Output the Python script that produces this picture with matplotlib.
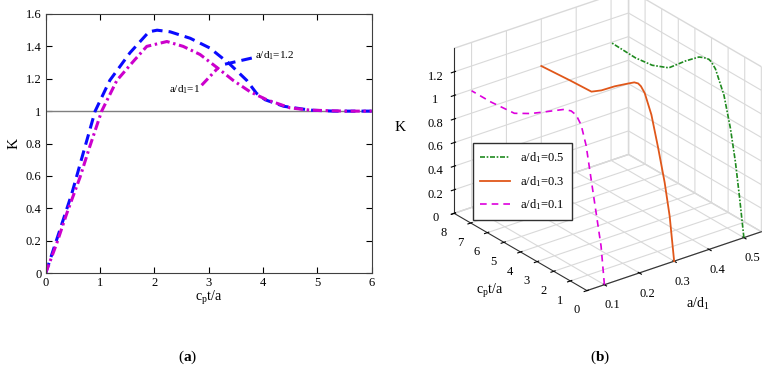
import numpy as np
import matplotlib
matplotlib.use('Agg')
import matplotlib.pyplot as plt

plt.rcParams['font.family'] = ['Liberation Serif', 'DejaVu Serif']
plt.rcParams['mathtext.fontset'] = 'custom'
plt.rcParams['mathtext.rm'] = 'Liberation Serif'
plt.rcParams['mathtext.it'] = 'Liberation Serif:italic'
plt.rcParams['mathtext.bf'] = 'Liberation Serif:bold'

# ---- panel (a): K vs cp t / a ----
t_12 = [0, 0.26, 0.48, 0.69, 0.91, 1.18, 1.55, 1.9, 2.05, 2.29, 2.66, 3.02, 3.39,
        3.70, 3.88, 4.04, 4.38, 4.87, 5.3, 6.0]
k_12 = [0, 0.265, 0.49, 0.74, 1.0, 1.19, 1.36, 1.49, 1.50, 1.49, 1.45, 1.39, 1.29,
        1.19, 1.11, 1.07, 1.03, 1.006, 1.0, 1.0]
t_10 = [0, 0.2, 0.39, 0.63, 0.81, 1.03, 1.31, 1.62, 1.86, 2.23, 2.53, 2.84, 3.15,
        3.45, 3.76, 4.07, 4.5, 4.87, 5.5, 6.0]
k_10 = [0, 0.18, 0.37, 0.59, 0.78, 1.0, 1.19, 1.31, 1.40, 1.43, 1.40, 1.35, 1.27,
        1.19, 1.12, 1.07, 1.02, 1.006, 1.0, 1.0]

# ---- panel (b): K vs cp t / a for three a/d1 ----
a_vals = [0.1, 0.3, 0.5]
t_01 = [0, 0.2, 0.5, 0.8, 1.1, 1.4, 1.7, 2.0, 2.41, 3.01, 3.61, 4.42, 5.42, 6.83, 8.0]
k_01 = [0, 0.31, 0.57, 0.83, 1.09, 1.24, 1.30, 1.31, 1.29, 1.23, 1.17, 1.09, 1.01, 0.99, 0.99]
t_03 = [0, 0.27, 0.57, 0.96, 1.37, 1.77, 2.0, 2.17, 2.4, 2.77, 3.58, 4.38, 4.98, 6.22, 8.0]
k_03 = [0, 0.36, 0.62, 0.88, 1.13, 1.28, 1.32, 1.33, 1.32, 1.28, 1.19, 1.09, 1.03, 1.02, 1.0]
t_05 = [0, 0.27, 0.51, 0.81, 1.2, 1.71, 1.95, 2.11, 2.4, 2.71, 3.52, 4.52, 5.52, 6.53, 8.0]
k_05 = [0, 0.33, 0.60, 0.86, 1.11, 1.29, 1.33, 1.34, 1.33, 1.31, 1.21, 1.07, 1.01, 0.99, 1.0]

W, H = 780, 375
fig = plt.figure(figsize=(7.8, 3.75), dpi=100)
fig.set_facecolor('white')

ax = fig.add_axes([45.7 / W, 1 - 273 / H, 326 / W, 259 / H])
ax.axhline(1, color='#7f7f7f', lw=1)
ax.plot(t_12, k_12, color='#0a0aff', lw=2.2, linestyle=(0, (3.5, 2)))
ax.plot(t_10, k_10, color='#cc00cc', lw=2.2, linestyle=(0, (3, 1.2, 0.8, 1.2)))
ax.plot([3.30, 3.82], [1.29, 1.33], color='#0a0aff', lw=2.2, linestyle=(0, (3.5, 2)))
ax.plot([2.87, 3.18], [1.16, 1.27], color='#cc00cc', lw=2.2, linestyle=(0, (3, 1.2, 0.8, 1.2)))
ax.text(3.85, 1.34, 'a/d$_1$=1.2', fontsize=8, va='center')
ax.text(2.27, 1.13, 'a/d$_1$=1', fontsize=8, va='center')
ax.set_xlim(0, 6)
ax.set_ylim(0, 1.6)
ax.set_xticks(range(0, 7))
ax.set_yticks([0, 0.2, 0.4, 0.6, 0.8, 1, 1.2, 1.4, 1.6])
ax.set_yticklabels(['0', '0.2', '0.4', '0.6', '0.8', '1', '1.2', '1.4', '1.6'])
ax.tick_params(direction='in', top=True, right=True, labelsize=9, length=4, pad=3)
ax.set_xlabel('c$_\\mathrm{p}$t/a', fontsize=10, labelpad=0)
ax.set_ylabel('K', fontsize=11, labelpad=4)
for s in ax.spines.values():
    s.set_color('#404040')

# ---- 3D panel ----
ax3 = fig.add_axes([428 / W, 0.139, 350 / W, 0.95], projection='3d', proj_type='ortho')
ax3.patch.set_alpha(0)
ax3.view_init(elev=26.3, azim=-127.3)
ax3.set_box_aspect((1, 1, 0.84))
ax3.plot(np.full(len(t_05), a_vals[2]), t_05, k_05, color='#1f8a1f', lw=1.2,
         linestyle=(0, (3, 1, 1, 1)), label='a/d$_1$=0.5')
ax3.plot(np.full(len(t_03), a_vals[1]), t_03, k_03, color='#e0571a', lw=1.3,
         label='a/d$_1$=0.3')
ax3.plot(np.full(len(t_01), a_vals[0]), t_01, k_01, color='#dd00dd', lw=1.2,
         linestyle=(0, (4, 3)), label='a/d$_1$=0.1')
ax3.set_xlim(0.05, 0.55)
ax3.set_ylim(0, 8)
ax3.set_zlim(0, 1.4)
ax3.set_xticks([0.1, 0.2, 0.3, 0.4, 0.5])
ax3.set_yticks(range(0, 9))
ax3.set_zticks([0, 0.2, 0.4, 0.6, 0.8, 1, 1.2])
ax3.set_zticklabels(['0', '0.2', '0.4', '0.6', '0.8', '1', '1.2'])
ax3.xaxis.set_rotate_label(False)
ax3.yaxis.set_rotate_label(False)
ax3.zaxis.set_rotate_label(False)
ax3.set_xlabel('a/d$_1$', fontsize=10, labelpad=2)
ax3.set_ylabel('c$_\\mathrm{p}$t/a', fontsize=10, labelpad=2)
ax3.set_zlabel('K', fontsize=11, labelpad=2)
ax3.tick_params(labelsize=9, pad=0)
for axis in (ax3.xaxis, ax3.yaxis, ax3.zaxis):
    axis.set_pane_color((1, 1, 1, 1))
    axis.pane.set_edgecolor((0.85, 0.85, 0.85, 1))
    axis._axinfo['grid']['color'] = (0.85, 0.85, 0.85, 1)
    axis._axinfo['grid']['linewidth'] = 0.8
    axis.line.set_color('#303030')
ax3.legend(loc='upper left', bbox_to_anchor=(473 / W, 1 - 143 / H),
           bbox_transform=fig.transFigure, borderaxespad=0, fontsize=9, fancybox=False,
           edgecolor='#303030', framealpha=1, handlelength=2.4, borderpad=0.6,
           labelspacing=0.7)

fig.text(187.5 / W, 1 - 357 / H, '($\\mathbf{a}$)', fontsize=11, ha='center', va='center')
fig.text(600 / W, 1 - 357 / H, '($\\mathbf{b}$)', fontsize=11, ha='center', va='center')

fig.savefig('out.png', dpi=100, facecolor='white')
